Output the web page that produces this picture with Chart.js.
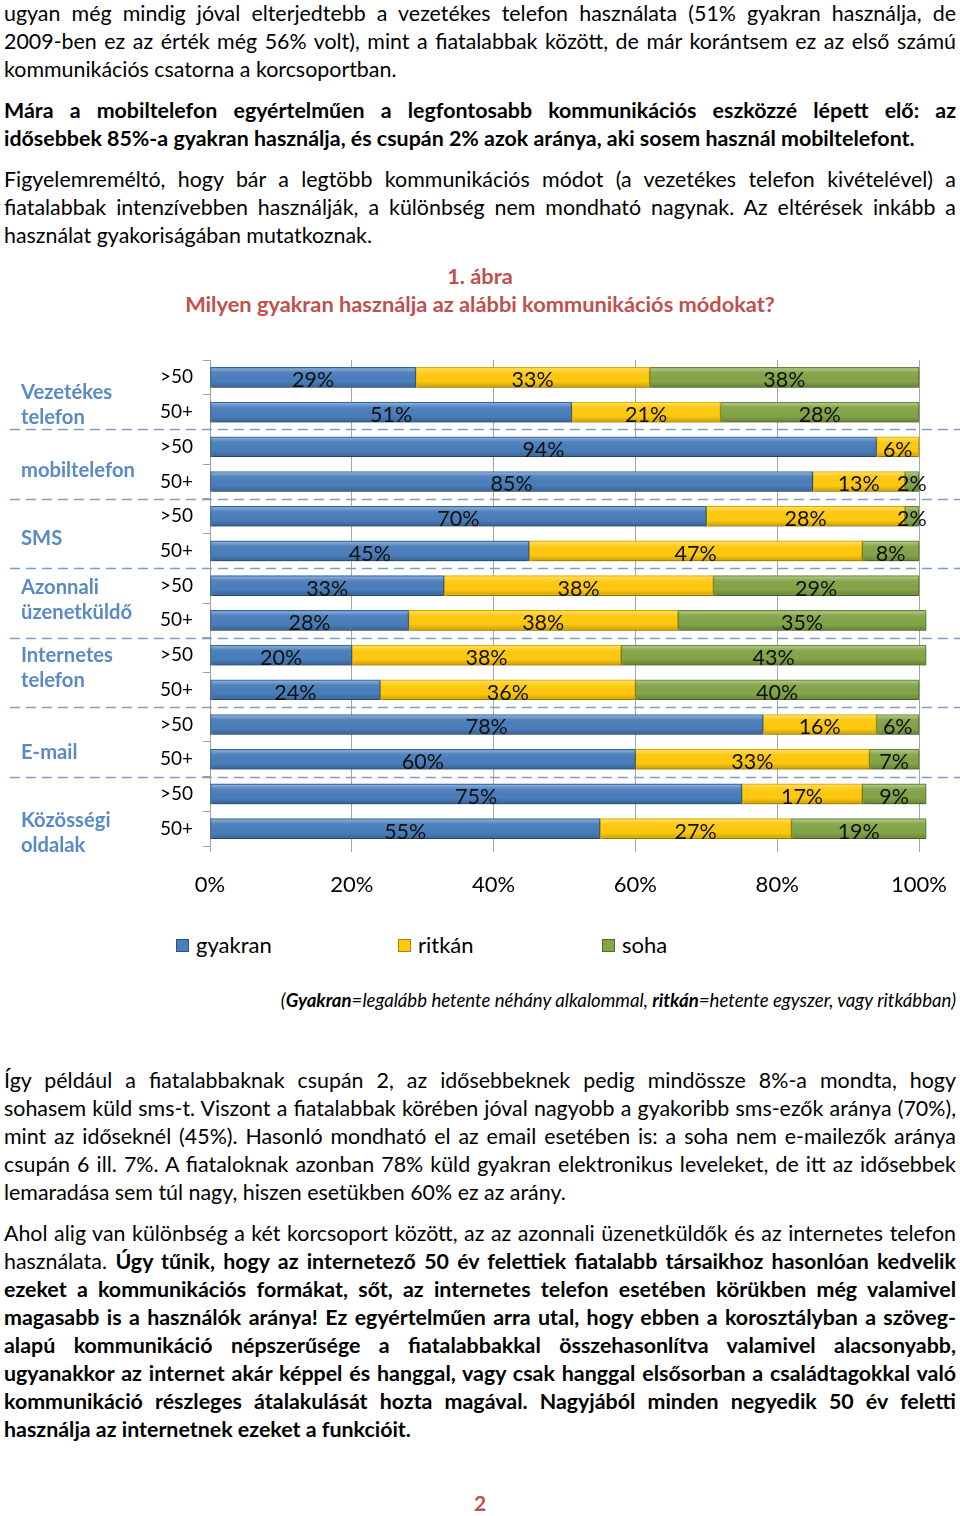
<!DOCTYPE html>
<html>
<head>
<meta charset="utf-8">
<script src="https://cdn.jsdelivr.net/npm/chart.js@4/dist/chart.umd.min.js"></script>
<style>
  body { margin: 0; background: #fff; width: 960px; height: 1516px; position: relative; overflow: hidden; font-family: Lato, "Open Sans", sans-serif; color: #000; }
  .txt { position: absolute; left: 4px; width: 952px; font-size: 21.4px; line-height: 28px; }
  .txt div { white-space: nowrap; text-align: justify; text-align-last: justify; }
  .txt div.last { text-align-last: left; }
  .bold { font-weight: bold; }
  .title { position: absolute; left: 0; width: 960px; top: 262px; text-align: center; color: #c0504d; font-weight: bold; font-size: 21.8px; line-height: 28px; }
  #chart { position: absolute; left: 0; top: 355px; }
  .grp { position: absolute; left: 21px; color: #5a89c4; font-weight: bold; font-size: 20.2px; line-height: 25px; }
  .leg { position: absolute; top: 932px; font-size: 22px; line-height: 26px; }
  .leg span { display: inline-block; width: 13px; height: 13px; margin-right: 7px; vertical-align: 1px; border: 1px solid rgba(0,0,0,0.35); box-sizing: border-box; }
  .note { position: absolute; top: 988px; left: 0; width: 956px; text-align: right; font-style: italic; font-size: 18.6px; line-height: 24px; }
  .pagenum { position: absolute; top: 1489px; left: 0; width: 960px; text-align: center; color: #c0504d; font-weight: bold; font-size: 21px; line-height: 28px; }
</style>
</head>
<body>

<div class="txt" style="top:-1px">
  <div>ugyan még mindig jóval elterjedtebb a vezetékes telefon használata (51% gyakran használja, de</div>
  <div>2009-ben ez az érték még 56% volt), mint a fiatalabbak között, de már korántsem ez az első számú</div>
  <div class="last">kommunikációs csatorna a korcsoportban.</div>
</div>
<div class="txt bold" style="top:96px">
  <div>Mára a mobiltelefon egyértelműen a legfontosabb kommunikációs eszközzé lépett elő: az</div>
  <div class="last">idősebbek 85%-a gyakran használja, és csupán 2% azok aránya, aki sosem használ mobiltelefont.</div>
</div>
<div class="txt" style="top:165px">
  <div>Figyelemreméltó, hogy bár a legtöbb kommunikációs módot (a vezetékes telefon kivételével) a</div>
  <div>fiatalabbak intenzívebben használják, a különbség nem mondható nagynak. Az eltérések inkább a</div>
  <div class="last">használat gyakoriságában mutatkoznak.</div>
</div>

<div class="title">1. ábra<br>Milyen gyakran használja az alábbi kommunikációs módokat?</div>

<canvas id="chart" width="960" height="560"></canvas>
<div id="groupLabels"></div>

<div class="leg" style="left:176px"><span style="background:#4a7ebb"></span>gyakran</div>
<div class="leg" style="left:398px"><span style="background:#ffc90e"></span>ritkán</div>
<div class="leg" style="left:602px"><span style="background:#83a547"></span>soha</div>

<div class="note">(<b>Gyakran</b>=legalább hetente néhány alkalommal, <b>ritkán</b>=hetente egyszer, vagy ritkábban)</div>

<div class="txt" style="top:1066px">
  <div>Így például a fiatalabbaknak csupán 2, az idősebbeknek pedig mindössze 8%-a mondta, hogy</div>
  <div>sohasem küld sms-t. Viszont a fiatalabbak körében jóval nagyobb a gyakoribb sms-ezők aránya (70%),</div>
  <div>mint az időseknél (45%). Hasonló mondható el az email esetében is: a soha nem e-mailezők aránya</div>
  <div>csupán 6 ill. 7%. A fiataloknak azonban 78% küld gyakran elektronikus leveleket, de itt az idősebbek</div>
  <div class="last">lemaradása sem túl nagy, hiszen esetükben 60% ez az arány.</div>
</div>
<div class="txt" style="top:1219px">
  <div>Ahol alig van különbség a két korcsoport között, az az azonnali üzenetküldők és az internetes telefon</div>
  <div>használata. <b>Úgy tűnik, hogy az internetező 50 év felettiek fiatalabb társaikhoz hasonlóan kedvelik</b></div>
  <div class="bold">ezeket a kommunikációs formákat, sőt, az internetes telefon esetében körükben még valamivel</div>
  <div class="bold">magasabb is a használók aránya! Ez egyértelműen arra utal, hogy ebben a korosztályban a szöveg-</div>
  <div class="bold">alapú kommunikáció népszerűsége a fiatalabbakkal összehasonlítva valamivel alacsonyabb,</div>
  <div class="bold">ugyanakkor az internet akár képpel és hanggal, vagy csak hanggal elsősorban a családtagokkal való</div>
  <div class="bold">kommunikáció részleges átalakulását hozta magával. Nagyjából minden negyedik 50 év feletti</div>
  <div class="bold last">használja az internetnek ezeket a funkcióit.</div>
</div>

<div class="pagenum">2</div>

<script>
const groups = ["Vezetékes telefon", "mobiltelefon", "SMS", "Azonnali üzenetküldő", "Internetes telefon", "E-mail", "Közösségi oldalak"];
const groupLines = [["Vezetékes", "telefon"], ["mobiltelefon"], ["SMS"], ["Azonnali", "üzenetküldő"], ["Internetes", "telefon"], ["E-mail"], ["Közösségi", "oldalak"]];
const ages = [">50", "50+"];
const seriesNames = ["gyakran", "ritkán", "soha"];
const gyakran = [29, 51, 94, 85, 70, 45, 33, 28, 20, 24, 78, 60, 75, 55];
const ritkan = [33, 21, 6, 13, 28, 47, 38, 38, 38, 36, 16, 33, 17, 27];
const soha = [38, 28, 0, 2, 2, 8, 29, 35, 43, 40, 6, 7, 9, 19];
const xTicks = [0, 20, 40, 60, 80, 100];

// top of each group label block (page px)
const groupTops = [379, 457, 525, 574, 642, 739, 807];

const labels = groups.flatMap(() => ages);

// group labels on the left
const gl = document.getElementById("groupLabels");
groupLines.forEach((lines, i) => {
  const d = document.createElement("div");
  d.className = "grp";
  d.style.top = groupTops[i] + "px";
  d.innerHTML = lines.join("<br>");
  gl.appendChild(d);
});

const FONT = "Lato, 'Open Sans', sans-serif";

// bevel + shadow look
const bevelPlugin = {
  id: "bevel",
  beforeDatasetsDraw(chart) {
    const ctx = chart.ctx;
    ctx.save();
    ctx.shadowColor = "rgba(0,0,0,0.35)";
    ctx.shadowBlur = 3;
    ctx.shadowOffsetY = 3;
    ctx.shadowOffsetX = 1;
  },
  afterDatasetsDraw(chart) {
    const ctx = chart.ctx;
    ctx.restore();
    chart.data.datasets.forEach((ds, i) => {
      chart.getDatasetMeta(i).data.forEach(el => {
        const p = el.getProps(["x", "y", "base", "height"], true);
        const l = Math.min(p.x, p.base), r = Math.max(p.x, p.base);
        if (r - l < 0.5) return;
        const t = p.y - p.height / 2;
        const g = ctx.createLinearGradient(0, t, 0, t + p.height);
        g.addColorStop(0, "rgba(255,255,255,0.45)");
        g.addColorStop(0.25, "rgba(255,255,255,0.05)");
        g.addColorStop(0.7, "rgba(0,0,0,0)");
        g.addColorStop(1, "rgba(0,0,0,0.22)");
        ctx.fillStyle = g;
        ctx.fillRect(l + 1, t + 1, r - l - 2, p.height - 2);
      });
    });
  }
};

const extrasPlugin = {
  id: "extras",
  afterDraw(chart) {
    const ctx = chart.ctx;
    const y = chart.scales.y;
    ctx.save();
    // dashed separators between groups
    ctx.strokeStyle = "#7d9dc9";
    ctx.lineWidth = 1.5;
    ctx.setLineDash([10, 6]);
    for (let k = 1; k < groups.length; k++) {
      const py = Math.round(y.getPixelForValue(k * ages.length - 0.5)) + 0.5;
      ctx.beginPath();
      ctx.moveTo(10, py);
      ctx.lineTo(960, py);
      ctx.stroke();
    }
    ctx.setLineDash([]);
    // age labels
    ctx.fillStyle = "#000";
    ctx.font = "19px " + FONT;
    ctx.textAlign = "left";
    ctx.textBaseline = "middle";
    labels.forEach((lab, i) => {
      ctx.fillText(lab, 160, y.getPixelForValue(i));
    });
    // value labels
    ctx.font = "21.5px " + FONT;
    ctx.textAlign = "center";
    ctx.fillStyle = "#111";
    chart.data.datasets.forEach((ds, i) => {
      chart.getDatasetMeta(i).data.forEach((el, j) => {
        const v = ds.data[j];
        if (!v) return;
        const p = el.getProps(["x", "y", "base"], true);
        ctx.fillText(v + "%", (p.x + p.base) / 2, p.y + 3);
      });
    });
    ctx.restore();
  }
};

const colors = ["#4a7ebb", "#ffc90e", "#83a547"];
const borders = ["#35649e", "#d9a800", "#66853a"];

new Chart(document.getElementById("chart"), {
  type: "bar",
  data: {
    labels: labels,
    datasets: [gyakran, ritkan, soha].map((d, i) => ({
      label: seriesNames[i],
      data: d,
      backgroundColor: colors[i],
      borderColor: borders[i],
      borderWidth: 1,
      borderSkipped: false,
      barThickness: 20,
      clip: false
    }))
  },
  options: {
    indexAxis: "y",
    responsive: false,
    animation: false,
    layout: { padding: { left: 0, right: 41, top: 5, bottom: 0 } },
    plugins: { legend: { display: false }, tooltip: { enabled: false } },
    scales: {
      x: {
        stacked: true,
        min: 0,
        max: 100,
        afterBuildTicks: s => { s.ticks = xTicks.map(v => ({ value: v })); },
        ticks: { callback: v => v + "%", color: "#000", font: { size: 22, family: FONT }, padding: 20 },
        grid: { color: "#a6a6a6", tickLength: 6 },
        border: { display: false },
        afterFit: s => { s.height = 69; s.paddingLeft = 0; s.paddingRight = 0; }
      },
      y: {
        stacked: true,
        ticks: { display: false },
        grid: { drawOnChartArea: false, tickLength: 7, color: "#a0a0a0" },
        border: { color: "#a0a0a0" },
        afterFit: s => { s.width = 210; }
      }
    }
  },
  plugins: [bevelPlugin, extrasPlugin]
});
</script>
</body>
</html>
